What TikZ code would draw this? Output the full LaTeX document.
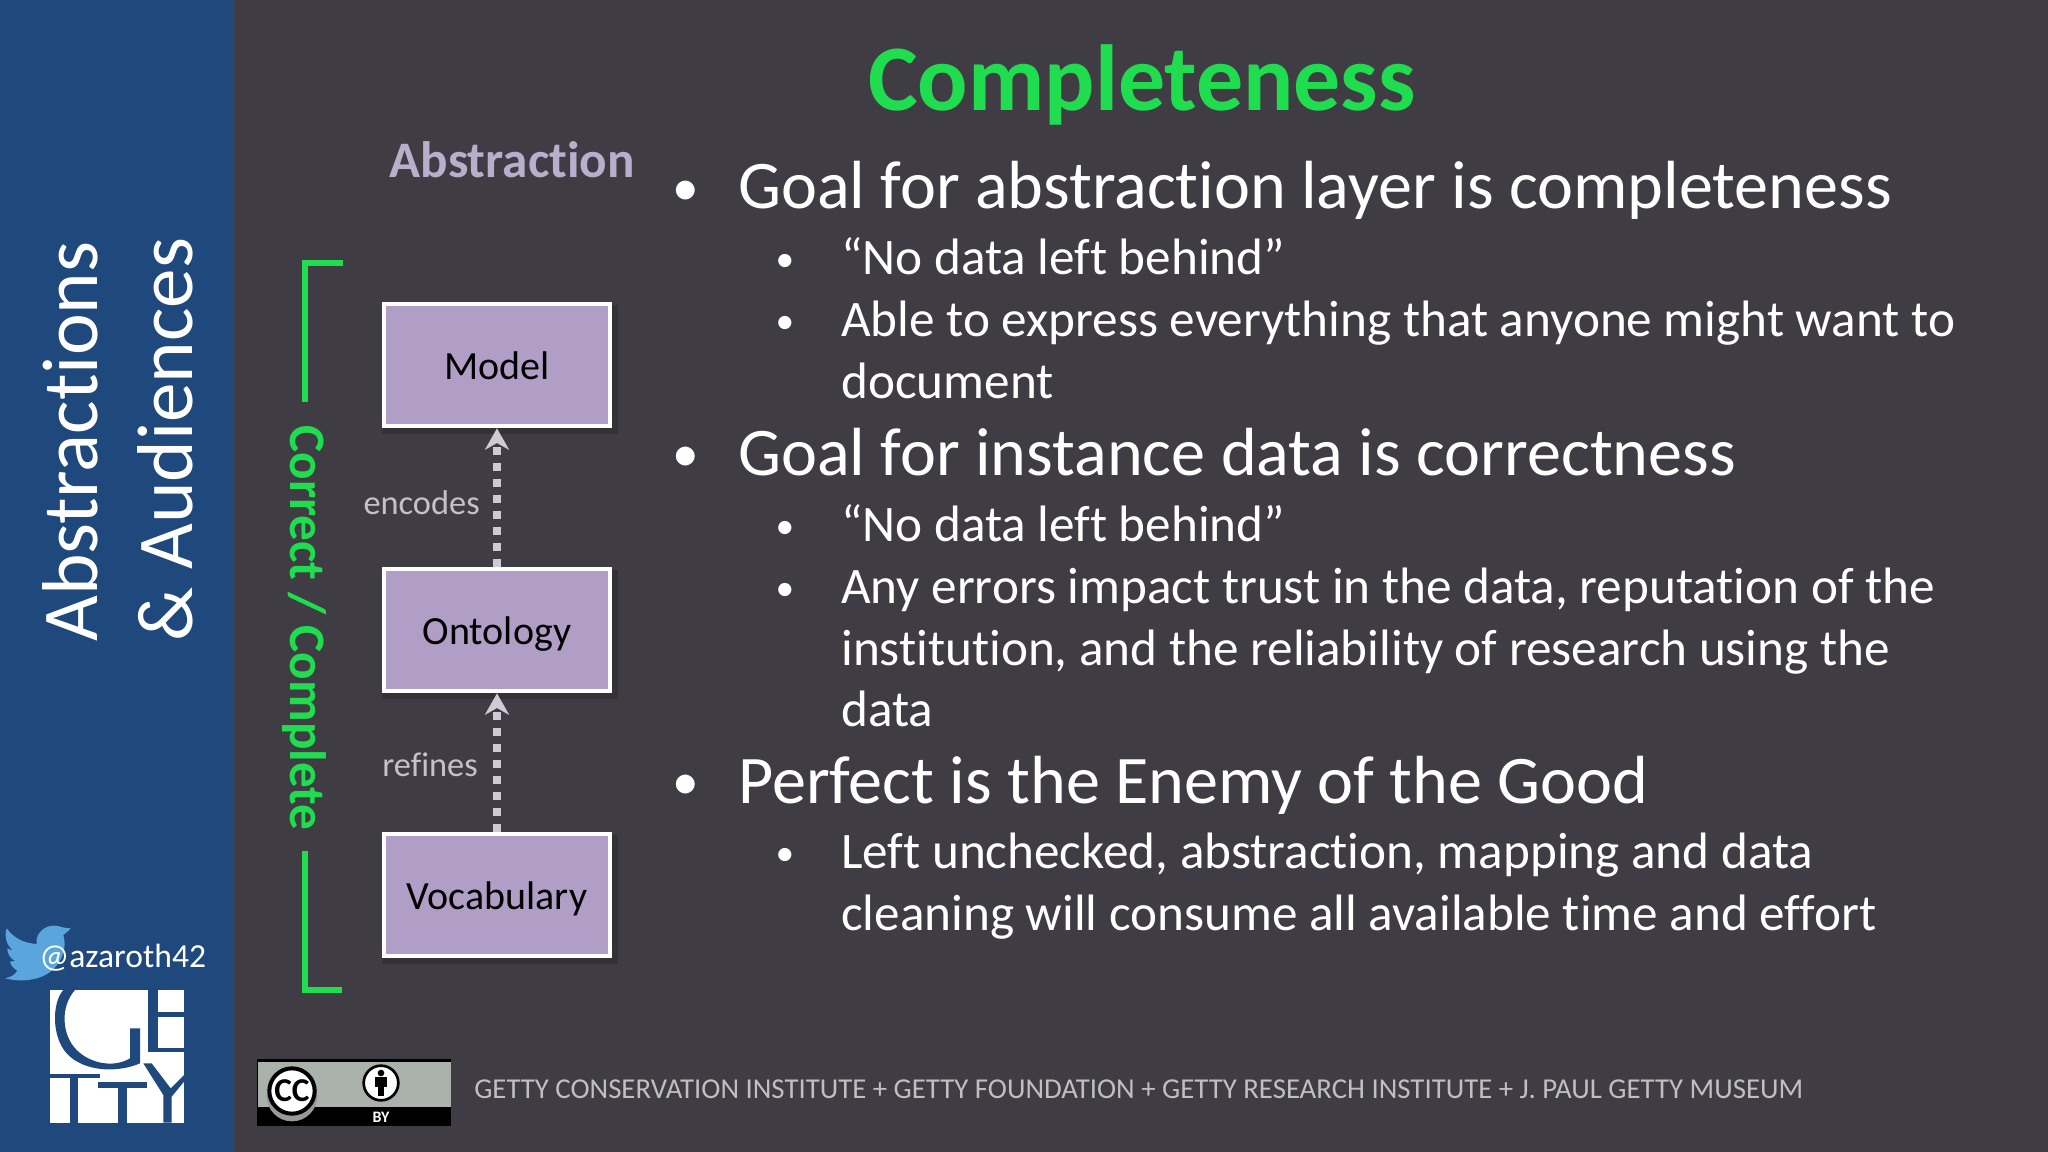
\documentclass[tikz,border=0pt]{standalone}
\usepackage{fontspec}
\setmainfont[Ligatures=NoCommon]{Carlito}
\usetikzlibrary{arrows.meta}
\definecolor{bgc}{HTML}{403C44}
\definecolor{sidec}{HTML}{1F497D}
\definecolor{edgec}{HTML}{4A3F42}
\definecolor{birdc}{HTML}{5AA5DC}
\definecolor{greenc}{HTML}{1FDD4F}
\definecolor{boxc}{HTML}{B19EC6}
\definecolor{greyc}{HTML}{C4C1C9}
\definecolor{dotc}{HTML}{CFCBD6}
\definecolor{absc}{HTML}{B7AFCB}
\definecolor{ccgrey}{HTML}{AAB1AB}
\newcommand{\fs}[1]{\fontsize{#1}{#1}\selectfont}
\tikzset{
  modelbox/.style={draw=white,line width=3pt,fill=boxc,minimum width=170pt,minimum height=92pt,inner sep=0pt,text=black,font=\fs{30},text height=21.8pt,text depth=0pt},
  dots/.style={draw=dotc,line width=6pt,dash pattern=on 6pt off 6pt,-{Stealth[length=16pt,width=18pt,inset=5pt]}},
  bracket/.style={draw=greenc,line width=4.2pt,line cap=butt,line join=miter},
  edgelab/.style={text=greyc,font=\fs{25.8},inner sep=0pt},
  maintxt/.style={anchor=base west,text=white,font=\fs{51.1},inner sep=0pt},
  subtxt/.style={anchor=base west,text=white,font=\fs{38.4},inner sep=0pt},
  mainbul/.style={anchor=base,text=white,font=\fs{40},inner sep=0pt},
  subbul/.style={anchor=base,text=white,font=\fs{28},inner sep=0pt}
}
\begin{document}
\begin{tikzpicture}[x=0.75pt,y=-0.75pt]
\useasboundingbox (0,0) rectangle (2048,1152);
\fill[bgc] (0,0) rectangle (2048,1152);
\fill[sidec] (0,0) rectangle (233,1152);
\fill[edgec] (233,0) rectangle (235,1152);
% sidebar
\node[anchor=base west,rotate=90,text=white,font=\fs{59.4},inner sep=0pt] (t1) at (97,642) {Abstractions};
\node[anchor=base west,rotate=90,text=white,font=\fs{59.4},inner sep=0pt] (t2) at (192,642) {\& Audiences};
% bird
\begin{scope}[shift={(0,880)},x=0.25pt,y=-0.25pt]
\fill[birdc] (20,145) .. controls (45,180) and (80,190) .. (110,192) .. controls (105,160) and (135,135) .. (165,137) .. controls (180,138) and (190,145) .. (212,145) .. controls (205,155) and (195,160) .. (190,165) .. controls (205,215) and (175,290) .. (85,300) .. controls (60,303) and (35,300) .. (15,295) .. controls (30,292) and (45,285) .. (52,272) .. controls (40,265) and (32,255) .. (30,245) .. controls (35,245) and (40,245) .. (45,243) .. controls (30,235) and (22,220) .. (22,205) .. controls (28,208) and (33,210) .. (38,210) .. controls (20,195) and (12,170) .. (20,145) -- cycle;
\end{scope}
\node[anchor=base west,text=white,font=\fs{25.2},inner sep=0pt] (handle) at (39,967) {@azaroth42};
% Getty logo
\begin{scope}[shift={(40,980)},x=0.25pt,y=-0.25pt]
\fill[white] (30,30) rectangle (432,428);
\fill[sidec] (70,30) .. controls (35,70) and (35,170) .. (80,220) .. controls (130,275) and (230,280) .. (300,250) -- (300,145) -- (270,145) -- (270,235) .. controls (220,265) and (150,250) .. (110,210) .. controls (65,165) and (60,80) .. (105,30) -- cycle;
\fill[sidec] (325,30) rectangle (355,205);
\fill[sidec] (355,97) rectangle (432,110);
\fill[sidec] (325,205) rectangle (432,215);
\fill[sidec] (30,282) rectangle (180,295);
\fill[sidec] (90,295) rectangle (115,428);
\fill[sidec] (175,305) rectangle (322,325);
\fill[sidec] (235,325) rectangle (260,428);
\fill[sidec] (310,250) -- (335,250) -- (392,325) -- (432,285) -- (432,305) -- (395,350) -- (395,428) -- (370,428) -- (370,345) -- cycle;
\end{scope}
% bracket
\draw[bracket] (343,263) coordinate (b1) -- (305,263) -- (305,402) coordinate (b2);
\draw[bracket] (305,851) coordinate (b3) -- (305,990) -- (342,990) coordinate (b4);
\node[rotate=-90,text=greenc,font=\fs{38.4}\bfseries,inner sep=0pt] (cc) at (304,628) {Correct / Complete};
% heading
\node[anchor=base,text=greenc,font=\fs{70.4}\bfseries,inner sep=0pt] (title) at (1142,111) {Completeness};
\node[anchor=base east,text=absc,font=\fs{38.4}\bfseries,inner sep=0pt] (abs) at (635,177) {Abstraction};
% shadows
\fill[black,opacity=.18] (382,305) rectangle (618,434);
\fill[black,opacity=.18] (382,570) rectangle (618,699);
\fill[black,opacity=.18] (382,835) rectangle (618,964);
% boxes
\node[modelbox] (model) at (497,365) {Model};
\node[modelbox] (ontology) at (497,630) {Ontology};
\node[modelbox] (vocab) at (497,895) {Vocabulary};
\draw[dots] (ontology.north) -- (model.south);
\draw[dots] (vocab.north) -- (ontology.south);
\node[edgelab,anchor=base east] (enc) at (480,514) {encodes};
\node[edgelab,anchor=base east] (ref) at (478,776) {refines};
% text
\foreach \y/\t in {209/Goal for abstraction layer is completeness,475/Goal for instance data is correctness,803/Perfect is the Enemy of the Good}{
  \node[maintxt] at (738,\y) {\t};
  \node[mainbul] at (686,\y-4) {•};
}
\foreach \y/\t in {274/“No data left behind”,336/Able to express everything that anyone might want to,541/“No data left behind”,603/{Any errors impact trust in the data, reputation of the},868/{Left unchecked, abstraction, mapping and data}}{
  \node[subtxt] at (841,\y) {\t};
  \node[subbul] at (785,\y-3) {•};
}
\foreach \y/\t in {398/document,665/{institution, and the reliability of research using the},726/data,930/cleaning will consume all available time and effort}{
  \node[subtxt] at (841,\y) {\t};
}
% cc badge
\fill[black] (257,1059) rectangle (451,1126);
\fill[ccgrey] (258,1062) rectangle (451,1107);
\fill[black!40] (292,1096) circle (19pt);
\fill[white,draw=black,line width=3pt] (292,1091) circle (17pt);
\node[font=\fs{25}\bfseries,text=black,inner sep=0pt] (ccm) at (292,1091) {CC};
\fill[white,draw=black,line width=2pt] (381,1083) circle (13pt);
\fill[black] (381,1073) circle (2.5pt);
\fill[black] (375,1077) rectangle (387,1087);
\fill[black] (378,1087) rectangle (384,1096);
\node[font=\fs{12}\bfseries,text=white,inner sep=0pt] (by) at (381,1117) {BY};
% footer
\node[anchor=base west,text=black!25,font=\fs{21.6},inner sep=0pt] (foot) at (474,1098) {GETTY CONSERVATION INSTITUTE + GETTY FOUNDATION + GETTY RESEARCH INSTITUTE + J. PAUL GETTY MUSEUM};
\end{tikzpicture}
\end{document}
